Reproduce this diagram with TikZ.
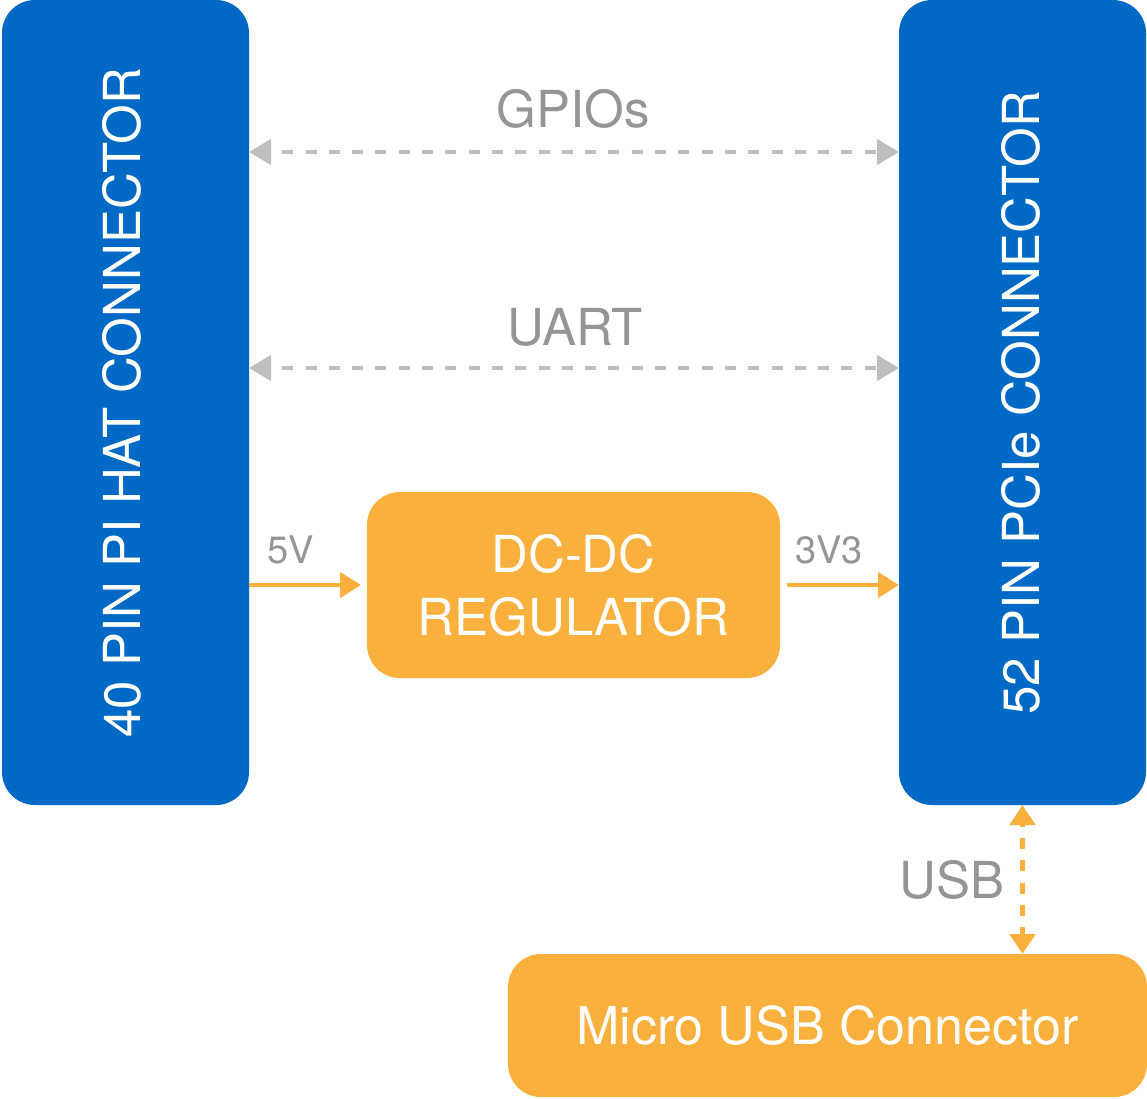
\documentclass[tikz,border=0pt]{standalone}
\usepackage{fontspec}
\setmainfont{TeX Gyre Heros}
\usetikzlibrary{arrows.meta}
\definecolor{boxblue}{HTML}{0069C6}
\definecolor{boxorange}{HTML}{FAB03C}
\definecolor{labelgray}{HTML}{939598}
\definecolor{arrowgray}{HTML}{BCBEC0}
\begin{document}
\begin{tikzpicture}[x=1pt,y=-1pt,
  box/.style={rectangle, rounded corners=33pt, inner sep=0pt, outer sep=0pt, anchor=north west},
  bluebox/.style={box, fill=boxblue},
  orangebox/.style={box, fill=boxorange, text=white, align=center, font=\fontsize{51pt}{63pt}\selectfont},
  bigtext/.style={text=white, font=\fontsize{51pt}{63pt}\selectfont, inner sep=0pt},
  graylabel/.style={text=labelgray, font=\fontsize{51pt}{61pt}\selectfont, inner sep=0pt, anchor=base},
  smalllabel/.style={text=labelgray, font=\fontsize{38pt}{46pt}\selectfont, inner sep=0pt, anchor=base},
  grayarrow/.style={draw=arrowgray, line width=4.4pt, dash pattern=on 11pt off 12.3pt, dash phase=11pt,
    {Triangle[length=22pt,width=25pt]}-{Triangle[length=22pt,width=25pt]}},
  orangearrow/.style={draw=boxorange, line width=4.5pt, -{Triangle[length=21pt,width=25pt]}},
  usbarrow/.style={draw=boxorange, line width=4.8pt, dash pattern=on 11pt off 11.3pt, dash phase=8pt,
    {Triangle[length=20pt,width=25pt]}-{Triangle[length=20pt,width=25pt]}}
]
\useasboundingbox (0,0) rectangle (1147,1098);

% boxes
\node[bluebox, minimum width=247pt, minimum height=805pt] (hat) at (2,0) {};
\node[bluebox, minimum width=247pt, minimum height=805pt] (pcie) at (899,0) {};
\node[orangebox, minimum width=413pt, minimum height=186pt] (reg) at (367,492) {DC-DC\\REGULATOR};
\node[orangebox, minimum width=639pt, minimum height=143pt, font=\fontsize{52pt}{63pt}\selectfont] (micro) at (508,954) {Micro USB Connector};

% rotated texts
\node[bigtext, rotate=90] (hattext) at ([xshift=-4pt]hat.center) {40 PIN PI HAT CONNECTOR};
\node[bigtext, rotate=90] (pcietext) at ([xshift=-2pt]pcie.center) {52 PIN PCIe CONNECTOR};

% labels
\node[graylabel] (gpiolabel) at (573,127) {GPIOs};
\node[graylabel] (uartlabel) at (575,345) {UART};
\node[smalllabel] (fivev) at (291,563) {5V};
\node[smalllabel] (threev) at (829,563) {3V3};
\node[graylabel] (usblabel) at (952,898) {USB};

% connectors
\draw[grayarrow] ([yshift=-152pt]hat.north east) -- ([yshift=-152pt]pcie.north west);
\draw[grayarrow] ([yshift=-368pt]hat.north east) -- ([yshift=-368pt]pcie.north west);
\draw[orangearrow, shorten >=6pt] ([yshift=-585pt]hat.north east) -- (reg.west);
\draw[orangearrow, shorten <=7pt] (reg.east) -- ([yshift=-585pt]pcie.north west);
\draw[usbarrow] (pcie.south) -- (pcie.south |- micro.north);
\end{tikzpicture}
\end{document}
